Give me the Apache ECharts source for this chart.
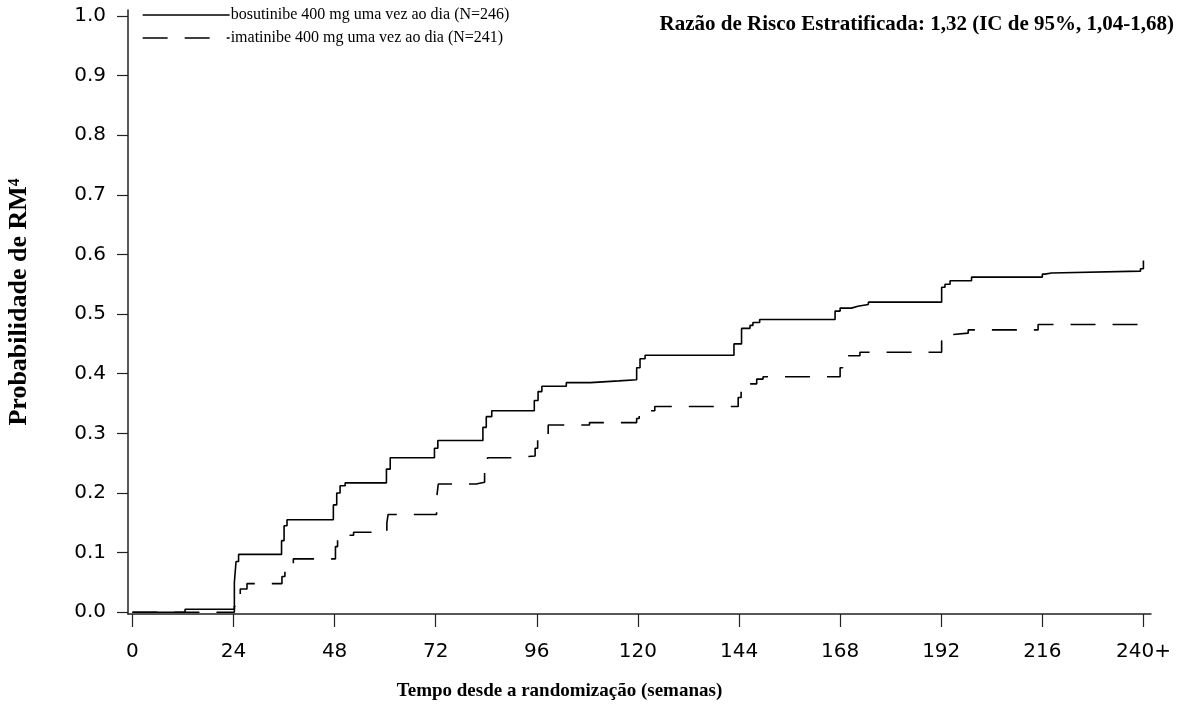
<!DOCTYPE html>
<html>
<head>
<meta charset="utf-8">
<script src="https://cdn.jsdelivr.net/npm/echarts@6/dist/echarts.min.js"></script>
<style>
  html, body { margin: 0; padding: 0; background: #fff; }
  #chart { width: 1191px; height: 713px; }
</style>
</head>
<body>
<div id="chart"></div>
<script>
// semanas / probabilidade cumulativa de RM4 (leitura do gráfico)
const bosWeeks = [0, 12.5, 24.2, 24.6, 25.2, 35.4, 36.0, 36.7, 47.7, 48.5, 49.3, 50.5, 60.3, 61.2, 71.7, 72.5,
  83.2, 84.0, 85.3, 95.4, 96.3, 97.2, 103, 108.7, 115.5, 119.7, 120.5, 121.7, 142.8, 144.6, 146.6, 147.3, 148.9,
  166.8, 168, 170.7, 172.2, 174.7, 192.1, 192.9, 194.1, 199.2, 216, 216.6, 218.2, 239.3, 240];
const bosProb = [0, 0.005, 0.05, 0.085, 0.097, 0.12, 0.145, 0.155, 0.18, 0.2, 0.212, 0.217, 0.24, 0.259, 0.275, 0.288,
  0.31, 0.328, 0.338, 0.355, 0.37, 0.379, 0.385, 0.388, 0.39, 0.41, 0.425, 0.431, 0.45, 0.476, 0.481, 0.486, 0.491,
  0.505, 0.51, 0.513, 0.516, 0.52, 0.545, 0.55, 0.556, 0.562, 0.567, 0.569, 0.572, 0.576, 0.59];

const imaWeeks = [0, 24.2, 24.8, 25.6, 27.2, 35.5, 36.2, 36.7, 38.2, 48.2, 48.7, 52.5, 60.4, 60.7, 72.2, 72.6,
  81.6, 83.6, 84.3, 89.6, 95.6, 96.2, 96.8, 98.7, 108.5, 119.7, 120.3, 124, 143.8, 144.5, 145.5, 148.2, 149.7,
  168, 168.6, 169.2, 172.7, 192.1, 192.9, 193.6, 198.4, 215, 239.3, 240];
const imaProb = [0, 0.01, 0.03, 0.039, 0.048, 0.06, 0.073, 0.08, 0.0895, 0.11, 0.129, 0.134, 0.15, 0.164, 0.19, 0.215,
  0.218, 0.24, 0.259, 0.262, 0.275, 0.29, 0.298, 0.314, 0.318, 0.325, 0.338, 0.345, 0.36, 0.375, 0.383, 0.391, 0.395,
  0.41, 0.425, 0.43, 0.436, 0.455, 0.465, 0.468, 0.4735, 0.4825, 0.485, 0.4975];

const xTickVals = [0, 24, 48, 72, 96, 120, 144, 168, 192, 216, 240];
const xTickLabels = ['0', '24', '48', '72', '96', '120', '144', '168', '192', '216', '240+'];
const yTickVals = [0, 0.1, 0.2, 0.3, 0.4, 0.5, 0.6, 0.7, 0.8, 0.9, 1.0];
const yTickLabels = ['0.0', '0.1', '0.2', '0.3', '0.4', '0.5', '0.6', '0.7', '0.8', '0.9', '1.0'];

const seriesNames = ['bosutinibe 400 mg uma vez ao dia (N=246)', 'imatinibe 400 mg uma vez ao dia (N=241)'];

function toPairs(xs, ys) {
  let out = [];
  for (let i = 0; i < xs.length; i++) {
    out.push([xs[i], ys[i]]);
  }
  return out;
}

const chart = echarts.init(document.getElementById('chart'), null, { renderer: 'canvas' });
const axisColor = '#222';
const serif = '"Liberation Serif", "Times New Roman", serif';

chart.setOption({
  animation: false,
  backgroundColor: '#fff',
  title: {
    text: 'Razão de Risco Estratificada: 1,32 (IC de 95%, 1,04-1,68)',
    right: 12,
    top: 9,
    textStyle: { fontFamily: serif, fontWeight: 'bold', fontSize: 21, color: '#000' }
  },
  legend: {
    orient: 'vertical',
    left: 137,
    top: 2,
    itemWidth: 87,
    itemHeight: 20,
    itemGap: 7,
    selectedMode: false,
    data: seriesNames,
    itemStyle: { opacity: 0, borderWidth: 0 },
    lineStyle: { width: 1.3 },
    textStyle: { fontFamily: serif, fontSize: 16, color: '#000', padding: [0, 0, 0, -4] }
  },
  grid: { left: 128, right: 40, top: 10, bottom: 99, outerBoundsMode: 'none', containLabel: false },
  xAxis: {
    type: 'value',
    min: -1.05,
    max: 241.8,
    name: 'Tempo desde a randomização (semanas)',
    nameLocation: 'middle',
    nameGap: 68,
    nameTextStyle: { fontFamily: serif, fontWeight: 'bold', fontSize: 19, color: '#000', padding: [0, 160, 0, 0] },
    axisLine: { onZero: false, lineStyle: { color: axisColor, width: 1.5 } },
    axisTick: { customValues: xTickVals, length: 13, lineStyle: { color: axisColor, width: 1.2 } },
    axisLabel: {
      customValues: xTickVals,
      margin: 28,
      fontFamily: '"DejaVu Sans", sans-serif',
      fontSize: 20,
      color: '#000',
      formatter: v => xTickLabels[xTickVals.indexOf(v)]
    },
    splitLine: { show: false }
  },
  yAxis: {
    type: 'value',
    min: -0.003,
    max: 1.01,
    name: 'Probabilidade de RM⁴',
    nameLocation: 'middle',
    nameGap: 96,
    nameTextStyle: { fontFamily: serif, fontWeight: 'bold', fontSize: 26, color: '#000', padding: [0, 0, 0, 20] },
    axisLine: { show: true, onZero: false, lineStyle: { color: axisColor, width: 1.5 } },
    axisTick: { show: true, customValues: yTickVals, length: 11, lineStyle: { color: axisColor, width: 1.2 } },
    axisLabel: {
      customValues: yTickVals,
      margin: 22,
      fontFamily: '"DejaVu Sans", sans-serif',
      fontSize: 20,
      color: '#000',
      formatter: v => yTickLabels[yTickVals.indexOf(v)]
    },
    splitLine: { show: false }
  },
  series: [
    {
      name: seriesNames[0],
      type: 'line',
      step: 'end',
      symbol: 'none',
      data: toPairs(bosWeeks, bosProb),
      lineStyle: { color: '#000', width: 1.6, type: 'solid' },
      itemStyle: { color: '#000' }
    },
    {
      name: seriesNames[1],
      type: 'line',
      step: 'end',
      symbol: 'none',
      data: toPairs(imaWeeks, imaProb),
      lineStyle: { color: '#000', width: 1.6, type: [25, 17] },
      itemStyle: { color: '#000' }
    }
  ]
});
</script>
</body>
</html>
